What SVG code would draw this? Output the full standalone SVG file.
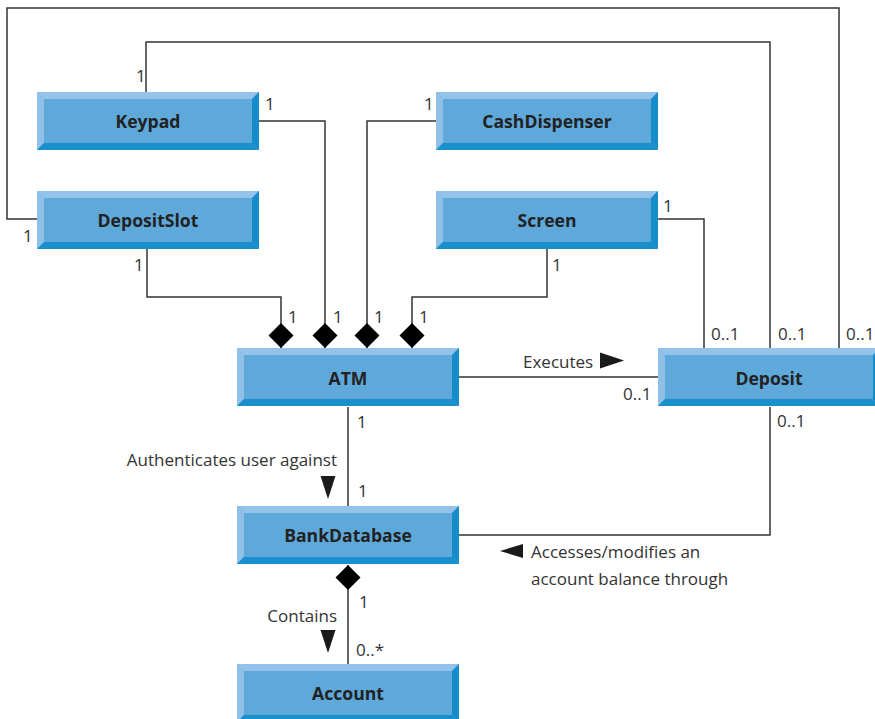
<svg xmlns="http://www.w3.org/2000/svg" xmlns:xlink="http://www.w3.org/1999/xlink" width="875" height="719" viewBox="0 0 875 719">
<style>
  .title { font-family: "Open Sans", "Liberation Sans", sans-serif; font-weight: bold; font-size: 17.6px; fill: #222; text-anchor: middle; }
  .lbl { font-family: "Open Sans", "Liberation Sans", sans-serif; font-size: 17px; fill: #333; }
  .end { text-anchor: end; }
  .conn { fill: none; stroke: #333; stroke-width: 1.5; }
  .tri { fill: #1a1a1a; }
</style>
<defs>
  <g id="box">
    <rect x="0" y="0" width="222" height="58" fill="#5fa8da"/>
    <polygon points="0,0 222,0 215,7 7,7" fill="#93c3ea"/>
    <polygon points="0,0 7,7 7,51 0,58" fill="#8fc0e8"/>
    <polygon points="222,0 222,58 215,51 215,7" fill="#178ccb"/>
    <polygon points="0,58 222,58 215,51 7,51" fill="#1a8fcd"/>
  </g>
  <marker id="diamond" markerUnits="userSpaceOnUse" markerWidth="30" markerHeight="30" refX="0" refY="0" orient="auto-start-reverse" overflow="visible">
    <path d="M-25,0 L-12.5,-12.5 L0,0 L-12.5,12.5 Z" fill="#000"/>
  </marker>
</defs>
<rect width="875" height="719" fill="#fff"/>

<g id="connectors">
  <path class="conn" d="M37,219 H7 V8 H839 V348"/>
  <path class="conn" d="M146,92 V42 H770 V348"/>
  <path class="conn" d="M259,121 H325 V348" marker-end="url(#diamond)"/>
  <path class="conn" d="M436,121 H367 V348" marker-end="url(#diamond)"/>
  <path class="conn" d="M147,249 V297 H281 V348" marker-end="url(#diamond)"/>
  <path class="conn" d="M547,249 V297 H412 V348" marker-end="url(#diamond)"/>
  <path class="conn" d="M658,219 H704 V348"/>
  <path class="conn" d="M459,377 H658"/>
  <path class="conn" d="M348,407 V506"/>
  <path class="conn" d="M459,535 H770 V407"/>
  <path class="conn" d="M348,565 V664" marker-start="url(#diamond)"/>
  <polygon class="tri" points="600,352.5 624,360.5 600,368.5"/>
  <polygon class="tri" points="320.5,476 335.5,476 328,499"/>
  <polygon class="tri" points="320.5,630 335.5,630 328,653"/>
  <polygon class="tri" points="523,544 523,558 500,551"/>
  <text class="lbl" x="136" y="82">1</text>
  <text class="lbl" x="265" y="110">1</text>
  <text class="lbl" x="424" y="110">1</text>
  <text class="lbl" x="23" y="242">1</text>
  <text class="lbl" x="134" y="271">1</text>
  <text class="lbl" x="663" y="212">1</text>
  <text class="lbl" x="552" y="271">1</text>
  <text class="lbl" x="288" y="323">1</text>
  <text class="lbl" x="333" y="323">1</text>
  <text class="lbl" x="374" y="323">1</text>
  <text class="lbl" x="419" y="323">1</text>
  <text class="lbl" x="711" y="340">0..1</text>
  <text class="lbl" x="778" y="340">0..1</text>
  <text class="lbl" x="846" y="340">0..1</text>
  <text class="lbl" x="523" y="368">Executes</text>
  <text class="lbl" x="623" y="400">0..1</text>
  <text class="lbl" x="777" y="427">0..1</text>
  <text class="lbl" x="357" y="428">1</text>
  <text class="lbl end" x="337" y="466">Authenticates user against</text>
  <text class="lbl" x="358" y="497">1</text>
  <text class="lbl" x="531" y="558">Accesses/modifies an</text>
  <text class="lbl" x="531" y="585">account balance through</text>
  <text class="lbl" x="359" y="608">1</text>
  <text class="lbl end" x="337" y="622">Contains</text>
  <text class="lbl" x="356" y="656">0..*</text>
</g>

<g id="Keypad"><use xlink:href="#box" x="37" y="92"/><text class="title" x="148" y="128">Keypad</text></g>
<g id="CashDispenser"><use xlink:href="#box" x="436" y="92"/><text class="title" x="547" y="128">CashDispenser</text></g>
<g id="DepositSlot"><use xlink:href="#box" x="37" y="191"/><text class="title" x="148" y="227">DepositSlot</text></g>
<g id="Screen"><use xlink:href="#box" x="436" y="191"/><text class="title" x="547" y="227">Screen</text></g>
<g id="ATM"><use xlink:href="#box" x="237" y="348"/><text class="title" x="348" y="385">ATM</text></g>
<g id="Deposit"><use xlink:href="#box" x="658" y="348"/><text class="title" x="769" y="385">Deposit</text></g>
<g id="BankDatabase"><use xlink:href="#box" x="237" y="506"/><text class="title" x="348" y="542">BankDatabase</text></g>
<g id="Account"><use xlink:href="#box" x="237" y="664"/><text class="title" x="348" y="700">Account</text></g>
</svg>
